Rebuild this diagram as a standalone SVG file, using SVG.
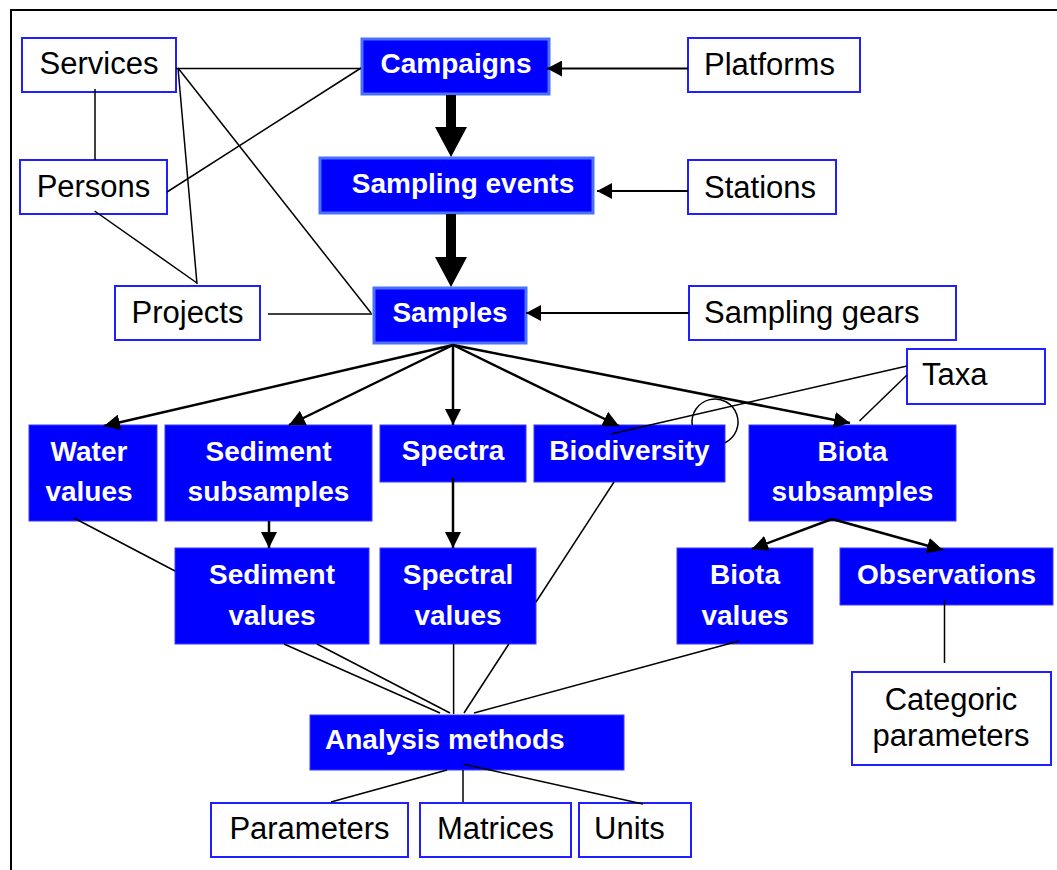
<svg xmlns="http://www.w3.org/2000/svg" width="1057" height="870" viewBox="0 0 1057 870">
<style>
.w{fill:#fff;stroke:#1f1fff;stroke-width:2}
.b{fill:#0000ff;stroke:#3a3aff;stroke-width:1}
.bt{fill:#0000ff;stroke:#4a70ff;stroke-width:3}
.tr{font-family:"Liberation Sans",Arial,sans-serif;font-size:31px;fill:#000}
.tb{font-family:"Liberation Sans",Arial,sans-serif;font-size:28px;font-weight:bold;fill:#fff}
.c{text-anchor:middle}
.ln{stroke:#000;stroke-width:1.5;fill:none}
.ar{stroke:#000;stroke-width:2.5;fill:none;marker-end:url(#ah)}
.ar2{stroke:#000;stroke-width:2;fill:none;marker-end:url(#ah2)}
</style>
<defs>
<marker id="ah" viewBox="0 0 16 16" refX="16" refY="8" markerWidth="16" markerHeight="16" markerUnits="userSpaceOnUse" orient="auto"><path d="M0,0 L16,8 L0,16 z" fill="#000"/></marker>
<marker id="ah2" viewBox="0 0 15 16" refX="15" refY="8" markerWidth="15" markerHeight="16" markerUnits="userSpaceOnUse" orient="auto"><path d="M0,0 L15,8 L0,16 z" fill="#000"/></marker>
</defs>
<rect width="1057" height="870" fill="#fff"/>
<path d="M11,870 V10 H1057" fill="none" stroke="#000" stroke-width="2"/>

<g id="services"><rect class="w" x="22" y="38" width="154" height="54"/><text class="tr c" x="99" y="74">Services</text></g>
<g id="persons"><rect class="w" x="20" y="160" width="147" height="54"/><text class="tr c" x="93.5" y="197">Persons</text></g>
<g id="projects"><rect class="w" x="115" y="286" width="145" height="54"/><text class="tr c" x="187.5" y="323">Projects</text></g>
<g id="campaigns"><rect class="bt" x="362" y="39" width="187" height="55"/><text class="tb c" x="456" y="73">Campaigns</text></g>
<g id="sampling-events"><rect class="bt" x="320" y="158" width="273" height="55"/><text class="tb c" x="463" y="193">Sampling events</text></g>
<g id="samples"><rect class="bt" x="374" y="288" width="152" height="55"/><text class="tb c" x="450" y="322">Samples</text></g>
<g id="platforms"><rect class="w" x="688" y="38" width="172" height="54"/><text class="tr" x="704" y="75">Platforms</text></g>
<g id="stations"><rect class="w" x="688" y="160" width="148" height="54"/><text class="tr" x="704" y="198">Stations</text></g>
<g id="sampling-gears"><rect class="w" x="689" y="286" width="267" height="54"/><text class="tr" x="704" y="323">Sampling gears</text></g>
<g id="taxa"><rect class="w" x="907" y="349" width="138" height="55"/><text class="tr" x="922" y="385">Taxa</text></g>

<g id="water-values"><rect class="b" x="29" y="425" width="128" height="96"/><text class="tb c" x="89" y="461">Water</text><text class="tb c" x="89" y="501">values</text></g>
<g id="sediment-subsamples"><rect class="b" x="165" y="425" width="207" height="96"/><text class="tb c" x="268.5" y="461">Sediment</text><text class="tb c" x="268.5" y="501">subsamples</text></g>
<g id="spectra"><rect class="b" x="380" y="425" width="146" height="57"/><text class="tb c" x="453" y="460">Spectra</text></g>
<g id="biodiversity"><rect class="b" x="534" y="425" width="191" height="57"/><text class="tb c" x="629.5" y="460">Biodiversity</text></g>
<g id="biota-subsamples"><rect class="b" x="749" y="425" width="207" height="96"/><text class="tb c" x="852.5" y="461">Biota</text><text class="tb c" x="852.5" y="501">subsamples</text></g>

<g id="sediment-values"><rect class="b" x="175" y="548" width="194" height="96"/><text class="tb c" x="272" y="584">Sediment</text><text class="tb c" x="272" y="625">values</text></g>
<g id="spectral-values"><rect class="b" x="380" y="548" width="156" height="96"/><text class="tb c" x="458" y="584">Spectral</text><text class="tb c" x="458" y="625">values</text></g>
<g id="biota-values"><rect class="b" x="677" y="548" width="136" height="96"/><text class="tb c" x="745" y="584">Biota</text><text class="tb c" x="745" y="625">values</text></g>
<g id="observations"><rect class="b" x="840" y="548" width="213" height="57"/><text class="tb c" x="946.5" y="584">Observations</text></g>
<g id="categoric-parameters"><rect class="w" x="852" y="672" width="199" height="93"/><text class="tr c" x="951" y="710">Categoric</text><text class="tr c" x="951" y="746">parameters</text></g>

<g id="analysis-methods"><rect class="b" x="310" y="715" width="314" height="55"/><text class="tb" x="325" y="749">Analysis methods</text></g>
<g id="parameters"><rect class="w" x="211" y="803" width="197" height="54"/><text class="tr c" x="309.5" y="839">Parameters</text></g>
<g id="matrices"><rect class="w" x="420" y="803" width="151" height="54"/><text class="tr c" x="495.5" y="839">Matrices</text></g>
<g id="units"><rect class="w" x="579" y="803" width="112" height="54"/><text class="tr" x="594" y="839">Units</text></g>

<g id="connectors">
<line class="ln" x1="176" y1="68.5" x2="361" y2="68.5"/>
<line class="ln" x1="178" y1="68" x2="197" y2="284"/>
<line class="ln" x1="178" y1="68" x2="371" y2="313"/>
<line class="ln" x1="95" y1="89" x2="95" y2="160"/>
<line class="ln" x1="167" y1="192" x2="361" y2="68"/>
<line class="ln" x1="94.6" y1="211" x2="197" y2="283"/>
<line class="ln" x1="268" y1="314" x2="372" y2="314"/>
<line class="ar2" x1="688" y1="68.5" x2="547" y2="68.5"/>
<line class="ar2" x1="688" y1="191" x2="597" y2="191"/>
<line class="ar2" x1="689" y1="313" x2="526" y2="313"/>
<path d="M446,95 H456 V127 H467 L451,157 L435,127 H446 z" fill="#000"/>
<path d="M446,214 H456 V257 H467 L451,287 L435,257 H446 z" fill="#000"/>
<line class="ar" x1="453" y1="345" x2="104" y2="426"/>
<line class="ar" x1="453" y1="345" x2="289" y2="425"/>
<line class="ar" x1="453" y1="345" x2="453" y2="425"/>
<line class="ar" x1="453" y1="345" x2="619" y2="426"/>
<line class="ar" x1="453" y1="345" x2="850" y2="423"/>
<line class="ar" x1="832" y1="519" x2="752" y2="549"/>
<line class="ar" x1="832" y1="519" x2="943" y2="550"/>
<line class="ar" x1="269" y1="521" x2="269" y2="548"/>
<line class="ar" x1="453" y1="478" x2="453" y2="548"/>
<line class="ln" x1="907" y1="366" x2="611" y2="434"/>
<line class="ln" x1="907" y1="375" x2="859.5" y2="421"/>
<path class="ln" d="M692.2,425 A23,23 0 1 1 725,442.7"/>
<line class="ln" x1="74" y1="518" x2="175" y2="571"/>
<line class="ln" x1="614" y1="482" x2="536" y2="602"/>
<line class="ln" x1="508.8" y1="644" x2="464" y2="713"/>
<line class="ln" x1="284" y1="644" x2="440" y2="713"/>
<line class="ln" x1="317" y1="644" x2="450" y2="713"/>
<line class="ln" x1="453.6" y1="644" x2="453.6" y2="714"/>
<line class="ln" x1="739" y1="641" x2="474" y2="713"/>
<line class="ln" x1="447" y1="770" x2="331" y2="802"/>
<line class="ln" x1="463" y1="770" x2="463" y2="802"/>
<line class="ln" x1="463" y1="764" x2="643" y2="804"/>
<line class="ln" x1="944.5" y1="600" x2="944.5" y2="663"/>
</g>
</svg>
